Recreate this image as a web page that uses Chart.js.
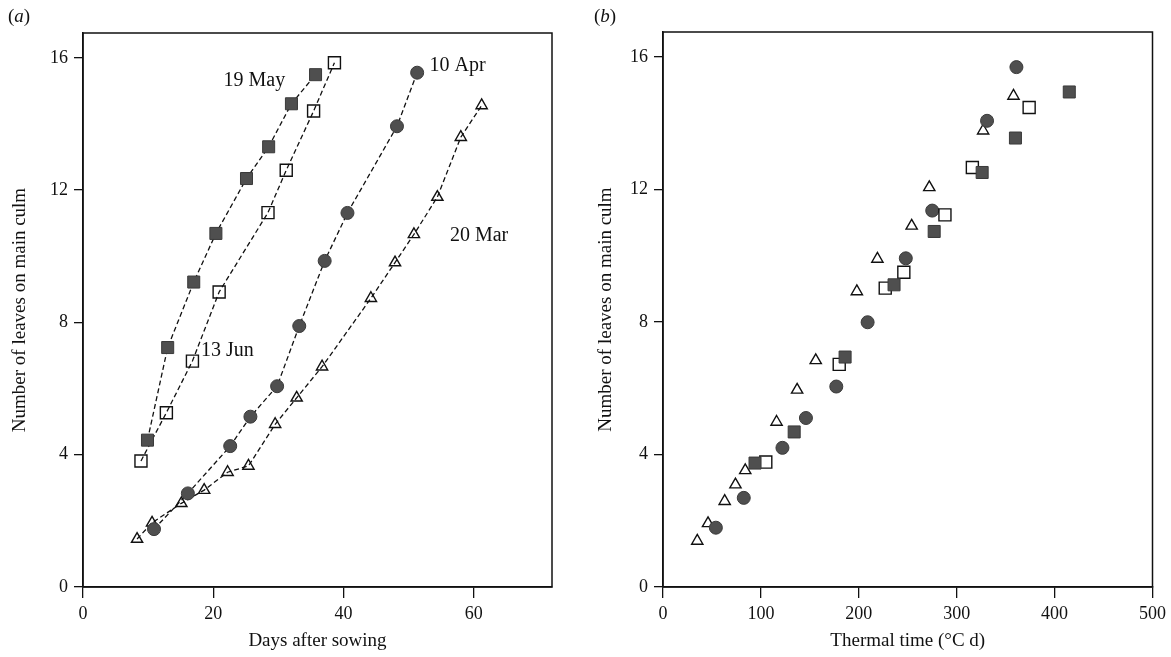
<!DOCTYPE html>
<html>
<head>
<meta charset="utf-8">
<script src="https://cdn.jsdelivr.net/npm/chart.js@4.4.0/dist/chart.umd.min.js"></script>
<style>
  body { margin: 0; background: #fff; }
  #wrap { position: relative; width: 1171px; height: 657px; }
  canvas { position: absolute; top: 0; }
  #graficoA { left: 0; }
  #graficoB { left: 585px; }
  .painel { position: absolute; top: 5px; font: 19px "Liberation Serif", serif; color: #111; }
</style>
</head>
<body>
<div id="wrap">
  <canvas id="graficoA" width="585" height="657"></canvas>
  <canvas id="graficoB" width="586" height="657"></canvas>
  <div class="painel" style="left:8px">(<i>a</i>)</div>
  <div class="painel" style="left:594px">(<i>b</i>)</div>
</div>
<script>
// (a) leaves on main culm vs days after sowing
const may19Days = [9.9, 13.0, 17.0, 20.4, 25.1, 28.5, 32.0, 35.7];
const may19Leaves = [4.44, 7.24, 9.22, 10.69, 12.35, 13.31, 14.61, 15.49];
const jun13Days = [8.9, 12.8, 16.8, 20.9, 28.4, 31.2, 35.4, 38.6];
const jun13Leaves = [3.81, 5.27, 6.83, 8.92, 11.32, 12.6, 14.39, 15.85];
const apr10Days = [10.9, 16.1, 22.6, 25.7, 29.8, 33.2, 37.1, 40.6, 48.2, 51.3];
const apr10Leaves = [1.75, 2.83, 4.26, 5.15, 6.07, 7.89, 9.86, 11.31, 13.93, 15.55];
const mar20Days = [8.3, 10.6, 15.1, 18.6, 22.2, 25.4, 29.5, 32.8, 36.7, 44.2, 47.9, 50.8, 54.4, 58.0, 61.2];
const mar20Leaves = [1.45, 1.94, 2.53, 2.93, 3.47, 3.66, 4.92, 5.72, 6.66, 8.73, 9.81, 10.66, 11.79, 13.6, 14.56];

// (b) leaves on main culm vs thermal time
const may19Thermal = [94, 134, 186, 236, 277, 326, 360, 415];
const may19LeavesB = [3.74, 4.68, 6.94, 9.12, 10.73, 12.51, 13.55, 14.94];
const jun13Thermal = [105, 180, 227, 246, 288, 316, 374];
const jun13LeavesB = [3.77, 6.72, 9.02, 9.50, 11.23, 12.66, 14.47];
const apr10Thermal = [54, 82.5, 122, 146, 177, 209, 248, 275, 331, 361];
const apr10LeavesB = [1.79, 2.69, 4.20, 5.10, 6.05, 7.99, 9.92, 11.36, 14.07, 15.69];
const mar20Thermal = [35, 46, 63, 74, 84, 116, 137, 156, 198, 219, 254, 272, 327, 358];
const mar20LeavesB = [1.39, 1.92, 2.59, 3.09, 3.52, 4.98, 5.95, 6.84, 8.92, 9.90, 10.90, 12.06, 13.77, 14.82];

// tick labels
const leafTicks = [0, 4, 8, 12, 16];
const dayTicks = [0, 20, 40, 60];
const thermalTicks = [0, 100, 200, 300, 400, 500];

// sowing date labels on panel (a), placed in data units
const sowingLabels = [
  { text: '19 May', x: 26.3, y: 15.32 },
  { text: '10 Apr', x: 57.5, y: 15.77 },
  { text: '13 Jun', x: 22.15, y: 7.13 },
  { text: '20 Mar', x: 60.8, y: 10.63 }
];

const SERIF = '"Liberation Serif", "Times New Roman", serif';
const INK = '#111';
const FILL = '#4f4f4f';

function pares(xs, ys) {
  return xs.map((x, i) => ({ x: x, y: ys[i] }));
}

// caixa em volta da area do grafico
const moldura = {
  id: 'moldura',
  beforeDatasetsDraw(chart) {
    const { ctx, chartArea: a } = chart;
    ctx.save();
    ctx.strokeStyle = INK;
    ctx.lineWidth = 1.5;
    ctx.strokeRect(a.left, a.top, a.right - a.left, a.bottom - a.top);
    ctx.restore();
  }
};

const rotulos = {
  id: 'rotulos',
  afterDatasetsDraw(chart) {
    const { ctx, scales } = chart;
    ctx.save();
    ctx.font = '20px ' + SERIF;
    ctx.fillStyle = INK;
    ctx.textAlign = 'center';
    ctx.textBaseline = 'middle';
    sowingLabels.forEach(l => {
      ctx.fillText(l.text, scales.x.getPixelForValue(l.x), scales.y.getPixelForValue(l.y));
    });
    ctx.restore();
  }
};

function eixos(xMax, xTicks, xTitulo, yLargura, yTituloPad) {
  return {
    x: {
      type: 'linear',
      min: 0,
      max: xMax,
      afterBuildTicks: s => { s.ticks = xTicks.map(v => ({ value: v })); },
      afterFit: s => { s.height = 70; },
      grid: { drawOnChartArea: false, drawTicks: true, tickLength: 11, color: INK, lineWidth: 1.3 },
      border: { display: true, color: INK, width: 1.5 },
      ticks: { color: INK, padding: 5, maxRotation: 0, font: { family: SERIF, size: 18 } },
      title: { display: true, text: xTitulo, color: INK, font: { family: SERIF, size: 19 }, padding: { top: 0, bottom: 5 } }
    },
    y: {
      type: 'linear',
      min: 0,
      max: 16.75,
      afterBuildTicks: s => { s.ticks = leafTicks.map(v => ({ value: v })); },
      afterFit: s => { s.width = yLargura; },
      grid: { drawOnChartArea: false, drawTicks: true, tickLength: 9, color: INK, lineWidth: 1.3 },
      border: { display: true, color: INK, width: 1.5 },
      ticks: { color: INK, padding: 6, font: { family: SERIF, size: 18 } },
      title: { display: true, text: 'Number of leaves on main culm', color: INK, font: { family: SERIF, size: 19 }, padding: { top: yTituloPad, bottom: 0 } }
    }
  };
}

function serie(dados, estilo, cheio, raio, comLinha) {
  return {
    data: dados,
    showLine: comLinha,
    borderColor: INK,
    borderWidth: 1.3,
    borderDash: [5, 3],
    pointStyle: estilo,
    pointRadius: raio,
    pointBackgroundColor: cheio ? FILL : 'rgba(0,0,0,0)',
    pointBorderColor: cheio ? '#3a3a3a' : INK,
    pointBorderWidth: cheio ? 1 : 1.4
  };
}

function criargraficoA(canvasID) {
  const ctx = document.getElementById(canvasID).getContext('2d');

  new Chart(ctx, {
    type: 'scatter',
    data: {
      datasets: [
        serie(pares(may19Days, may19Leaves), 'rect', true, 8.5, true),
        serie(pares(jun13Days, jun13Leaves), 'rect', false, 8.5, true),
        serie(pares(apr10Days, apr10Leaves), 'circle', true, 6.5, true),
        serie(pares(mar20Days, mar20Leaves), 'triangle', false, 6.5, true)
      ]
    },
    options: {
      responsive: false,
      animation: false,
      devicePixelRatio: 1,
      layout: { padding: { top: 33, right: 33, left: 0, bottom: 0 } },
      plugins: { legend: { display: false }, tooltip: { enabled: false } },
      scales: eixos(72, dayTicks, 'Days after sowing', 83, 9)
    },
    plugins: [moldura, rotulos]
  });
}

function criargraficoB(canvasID) {
  const ctx = document.getElementById(canvasID).getContext('2d');

  new Chart(ctx, {
    type: 'scatter',
    data: {
      datasets: [
        serie(pares(may19Thermal, may19LeavesB), 'rect', true, 8.5, false),
        serie(pares(jun13Thermal, jun13LeavesB), 'rect', false, 8.5, false),
        serie(pares(apr10Thermal, apr10LeavesB), 'circle', true, 6.5, false),
        serie(pares(mar20Thermal, mar20LeavesB), 'triangle', false, 6.5, false)
      ]
    },
    options: {
      responsive: false,
      animation: false,
      devicePixelRatio: 1,
      layout: { padding: { top: 32, right: 18, left: 0, bottom: 0 } },
      plugins: { legend: { display: false }, tooltip: { enabled: false } },
      scales: eixos(500, thermalTicks, 'Thermal time (\u00B0C d)', 78, 10)
    },
    plugins: [moldura]
  });
}

criargraficoA('graficoA');
criargraficoB('graficoB');
</script>
</body>
</html>
